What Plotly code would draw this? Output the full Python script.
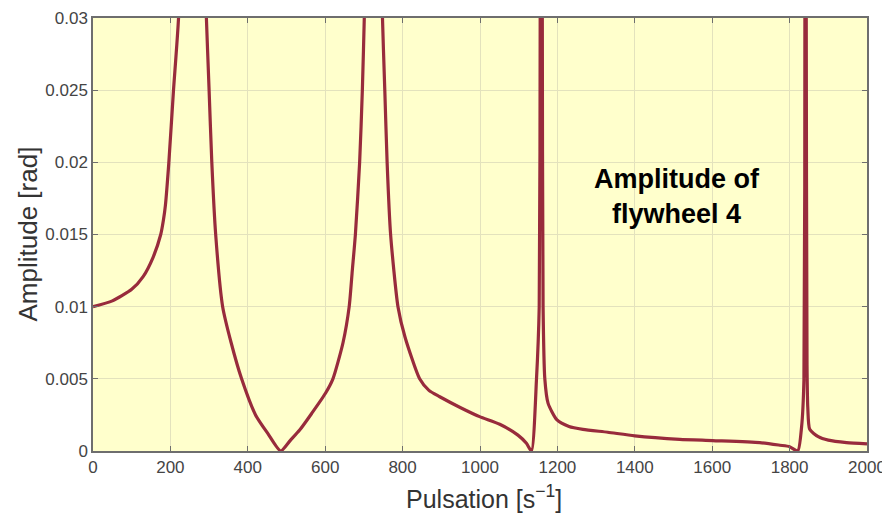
import plotly.graph_objects as go

# amplitude of flywheel 4
omega = [0, 50, 100, 130, 155, 175, 182, 187, 196, 208, 221, 257, 293, 300, 307, 317,
         335, 357, 384, 420, 452, 485, 510, 534, 565, 600.7, 620, 646, 662, 670,
         678, 689, 696, 701, 725, 748, 754, 760, 769, 788, 806, 844, 868, 896, 950,
         999, 1051, 1098, 1120, 1133, 1146, 1153, 1155.5, 1158, 1161, 1163, 1167.5,
         1176, 1199, 1230, 1266, 1330, 1400, 1516, 1601, 1723, 1775, 1800, 1821,
         1831, 1837, 1839.5, 1841, 1843, 1845, 1847, 1852, 1874, 1900, 1947, 2000]
amplitude = [0.0100, 0.0104, 0.0112, 0.0121, 0.0134, 0.0150, 0.0160, 0.0170, 0.0200,
             0.0250, 0.0300, 0.0600, 0.0300, 0.0250, 0.0200, 0.0150, 0.0100, 0.0075,
             0.0050, 0.0025, 0.0012, 0.0, 0.00074, 0.00145, 0.0026, 0.0040, 0.0050,
             0.0075, 0.0100, 0.0125, 0.0150, 0.0200, 0.0250, 0.0300, 0.0600, 0.0300,
             0.0250, 0.0200, 0.0150, 0.0100, 0.00792, 0.0050, 0.0042, 0.00376, 0.0030,
             0.00238, 0.00185, 0.0011, 0.00053, 0.0, 0.0050, 0.0100, 0.0300, 0.0800,
             0.0300, 0.0100, 0.0050, 0.0033, 0.00215, 0.0017, 0.0015, 0.0013, 0.00105,
             0.00081, 0.00072, 0.00058, 0.00040, 0.00030, 0.0, 0.00168, 0.0049,
             0.0300, 0.0800, 0.0300, 0.0060, 0.0030, 0.0015, 0.00099, 0.00075,
             0.00058, 0.00050]

x_ticks = [0, 200, 400, 600, 800, 1000, 1200, 1400, 1600, 1800, 2000]
y_ticks = [0, 0.005, 0.01, 0.015, 0.02, 0.025, 0.03]
y_tick_labels = ['0', '0.005', '0.01', '0.015', '0.02', '0.025', '0.03']

axis_color = '#6e6e6e'
grid_color = '#e3e2bd'

fig = go.Figure(go.Scatter(x=omega, y=amplitude, mode='lines',
                           line=dict(color='#982b3c', width=3.2,
                                     shape='spline', smoothing=0.6)))

common = dict(showline=True, linecolor=axis_color, linewidth=1.5, mirror='ticks',
              ticks='inside', ticklen=5, tickcolor=axis_color, automargin=False,
              showgrid=True, gridcolor=grid_color, gridwidth=1, zeroline=False,
              tickfont=dict(size=17, color='#444444'))

fig.update_xaxes(range=[0, 2000], tickvals=x_ticks, **common)
fig.update_yaxes(range=[0, 0.03], tickvals=y_ticks, ticktext=y_tick_labels, **common)

# axis titles placed as annotations to match the reference positions
fig.add_annotation(xref='paper', yref='paper', x=0.505, y=0, yshift=-46,
                   xanchor='center', yanchor='middle',
                   text='Pulsation [s<sup>\u22121</sup>]', showarrow=False,
                   font=dict(size=25, color='#333333'))
fig.add_annotation(xref='paper', yref='paper', x=0, y=0.5, xshift=-66,
                   xanchor='center', yanchor='middle',
                   text='Amplitude [rad]', textangle=-90, showarrow=False,
                   font=dict(size=26, color='#333333'))

fig.add_annotation(x=1510, y=0.0176, text='<b>Amplitude of<br>flywheel 4</b>',
                   showarrow=False, font=dict(size=27, color='black'))

# page body adds an 8px margin, so the figure is offset by that much
fig.update_layout(width=882, height=508, showlegend=False,
                  plot_bgcolor='#ffffcc', paper_bgcolor='white',
                  font=dict(family='Arial, Liberation Sans, sans-serif'),
                  margin=dict(l=85, r=23, t=10, b=65))

fig.write_html("out.html")
